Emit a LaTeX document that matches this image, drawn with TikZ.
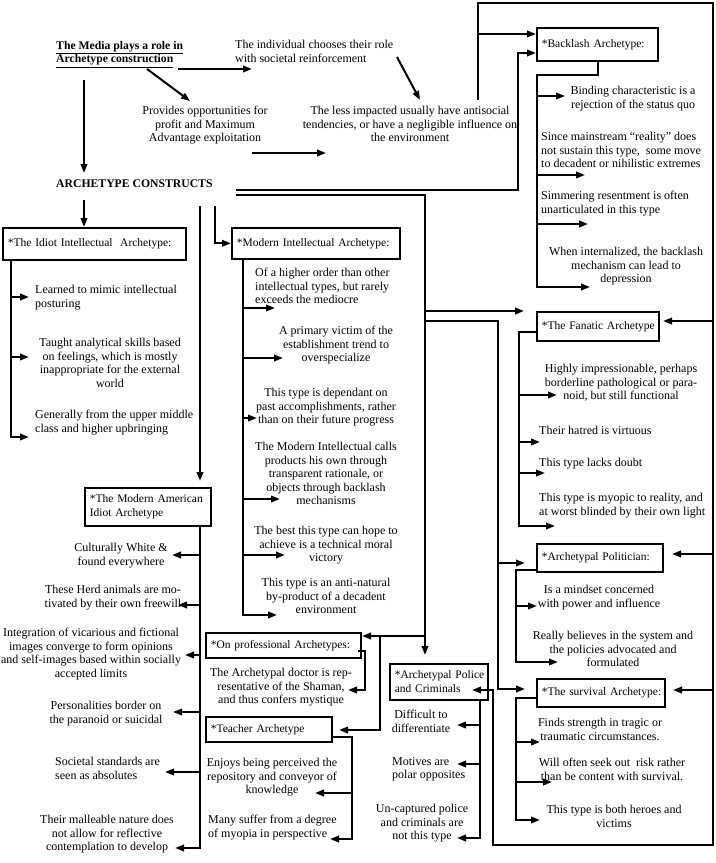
\documentclass[tikz,border=0pt]{standalone}
\usepackage{fontspec}
\setmainfont{Liberation Serif}
\usetikzlibrary{arrows.meta,positioning}

\begin{document}
\begin{tikzpicture}[
  x=1bp, y=-1bp,
  every node/.style={font=\fontsize{12bp}{13.5bp}\selectfont},
  head/.style={inner sep=0pt, align=left, anchor=north west, font=\fontsize{11.7bp}{13.5bp}\selectfont\bfseries},
  arch/.style={draw, line width=1.6bp, anchor=north west, inner xsep=5bp, inner ysep=0pt, align=left, font=\fontsize{11.5bp}{13.5bp}\selectfont},
  note/.style={inner sep=0pt, align=left, anchor=north west},
  cnote/.style={inner sep=0pt, align=center, anchor=north},
  wire/.style={line width=2bp},
  ptr/.style={wire, -{Triangle[length=9bp,width=6.5bp]}}
]
  \useasboundingbox[fill=white] (0,0) rectangle (716,863);

  % header
  \node[head] (media) at (56,41) {\underline{The Media plays a role in}\\\underline{Archetype construction}};
  \node[note] (indiv) at (235,40) {The individual chooses their role\\with societal reinforcement};
  \node[cnote] (prov) at (205,106) {Provides opportunities for\\profit and Maximum\\Advantage exploitation};
  \node[cnote] (less) at (410,106) {The less impacted usually have antisocial\\tendencies, or have a negligible influence on\\the environment};
  \node[head] (cons) at (56,180) {ARCHETYPE CONSTRUCTS};

  % archetype boxes
  \node[arch, text width=111bp, minimum height=33bp] (bl) at (536,27) {\mbox{*Backlash Archetype:}};
  \node[arch, text width=173bp, minimum height=32bp] (ii) at (2,227) {\mbox{*The Idiot Intellectual\ \ Archetype:}};
  \node[arch, text width=158bp, minimum height=31bp] (mi) at (231,227) {\mbox{*Modern Intellectual Archetype:}};
  \node[arch, text width=116bp, minimum height=38bp] (ma) at (84,487) {\mbox{*The Modern American}\\\mbox{Idiot Archetype}};
  \node[arch, text width=112bp, minimum height=29bp] (fa) at (536,311) {\mbox{*The Fanatic Archetype}};
  \node[arch, text width=116bp, minimum height=28bp] (po) at (536,543) {\mbox{*Archetypal Politician:}};
  \node[arch, text width=118bp, minimum height=28bp] (su) at (536,678) {\mbox{*The survival Archetype:}};
  \node[arch, text width=145bp, minimum height=25bp] (op) at (205,632) {\mbox{*On professional Archetypes:}};
  \node[arch, text width=116bp, minimum height=25bp] (te) at (205,716) {\mbox{*Teacher Archetype}};
  \node[arch, text width=88bp, minimum height=36bp] (pc) at (389,663) {\mbox{*Archetypal Police}\\\mbox{and Criminals}};

  % backlash
  \node[cnote] (bl1) at (633,86) {Binding characteristic is a\\rejection of the status quo};
  \node[note] (bl2) at (541,132) {Since mainstream “reality” does\\not sustain this type,\ \ some move\\to decadent or nihilistic extremes};
  \node[note] (bl3) at (541,191) {Simmering resentment is often\\unarticulated in this type};
  \node[cnote] (bl4) at (626,247) {When internalized, the backlash\\mechanism can lead to\\depression};

  % fanatic
  \node[cnote] (fa1) at (621,364) {Highly impressionable, perhaps\\borderline pathological or para-\\noid, but still functional};
  \node[note] (fa2) at (539,426) {Their hatred is virtuous};
  \node[note] (fa3) at (539,458) {This type lacks doubt};
  \node[note] (fa4) at (539,493) {This type is myopic to reality, and\\at worst blinded by their own light};

  % politician
  \node[cnote] (po1) at (599,585) {Is a mindset concerned\\with power and influence};
  \node[cnote] (po2) at (613,631) {Really believes in the system and\\the policies advocated and\\formulated};

  % survival
  \node[cnote] (su1) at (600,718) {Finds strength in tragic or\\traumatic circumstances.};
  \node[cnote] (su2) at (612,758) {Will often seek out\ \ risk rather\\than be content with survival.};
  \node[cnote] (su3) at (614,805) {This type is both heroes and\\victims};

  % idiot intellectual
  \node[note] (ii1) at (35,285) {Learned to mimic intellectual\\posturing};
  \node[cnote] (ii2) at (110,338) {Taught analytical skills based\\on feelings, which is mostly\\inappropriate for the external\\world};
  \node[note] (ii3) at (35,410) {Generally from the upper middle\\class and higher upbringing};

  % modern intellectual
  \node[note] (mi1) at (255,268) {Of a higher order than other\\intellectual types, but rarely\\exceeds the mediocre};
  \node[cnote] (mi2) at (336,326) {A primary victim of the\\establishment trend to\\overspecialize};
  \node[cnote] (mi3) at (326,388) {This type is dependant on\\past accomplishments, rather\\than on their future progress};
  \node[cnote] (mi4) at (326,442) {The Modern Intellectual calls\\products his own through\\transparent rationale, or\\objects through backlash\\mechanisms};
  \node[cnote] (mi5) at (326,526) {The best this type can hope to\\achieve is a technical moral\\victory};
  \node[cnote] (mi6) at (326,578) {This type is an anti-natural\\by-product of a decadent\\environment};

  % modern american idiot
  \node[cnote] (ma1) at (121,543) {Culturally White \&\\found everywhere};
  \node[cnote] (ma2) at (113,585) {These Herd animals are mo-\\tivated by their own freewill};
  \node[cnote] (ma3) at (91,628) {Integration of vicarious and fictional\\images converge to form opinions\\and self-images based within socially\\accepted limits};
  \node[cnote] (ma4) at (106,701) {Personalities border on\\the paranoid or suicidal};
  \node[note] (ma5) at (55,757) {Societal standards are\\seen as absolutes};
  \node[cnote] (ma6) at (107,815) {Their malleable nature does\\not allow for reflective\\contemplation to develop};

  % professional, teacher, police
  \node[cnote] (op1) at (281,668) {The Archetypal doctor is rep-\\resentative of the Shaman,\\and thus confers mystique};
  \node[cnote] (te1) at (272,758) {Enjoys being perceived the\\repository and conveyor of\\knowledge};
  \node[note] (te2) at (208,815) {Many suffer from a degree\\of myopia in perspective};
  \node[cnote] (pc1) at (421,710) {Difficult to\\differentiate};
  \node[note] (pc2) at (392,757) {Motives are\\polar opposites};
  \node[cnote] (pc3) at (422,804) {Un-captured police\\and criminals are\\not this type};

  % junctions and arrow ends
  \coordinate (m-r) at (178,69);   \coordinate (i-in) at (252,69);
  \coordinate (m-d) at (147,69);   \coordinate (p-in) at (190,101);
  \coordinate (i-d) at (397,57);   \coordinate (l-in) at (420,100);
  \coordinate (p-r) at (252,153);  \coordinate (p-out) at (326,153);
  \coordinate (m-dn) at (84,80);   \coordinate (c-in) at (84,173);
  \coordinate (c-r1) at (236,190); \coordinate (c-r2) at (236,195);
  \coordinate (c-d1) at (84,200);  \coordinate (c-d2) at (200,206);
  \coordinate (c-d3) at (215,206); \coordinate (bl-k2) at (518,53);
  \coordinate (less-up) at (478,100); \coordinate (bl-in1) at (536,34);
  \coordinate (loop-tr) at (713,3);   \coordinate (loop-bl) at (493,845);
  \coordinate (pc-in) at (472,690);
  \coordinate (fa-r) at (663,321); \coordinate (po-r) at (672,554); \coordinate (su-r) at (673,690);
  \coordinate (tm) at (425,195);   \coordinate (pc-top) at (425,655);
  \coordinate (fa-in) at (524,311);
  \coordinate (k-po) at (498,321); \coordinate (po-in) at (525,563); \coordinate (su-in) at (525,689);
  \coordinate (op-in) at (362,636); \coordinate (k-te) at (380,636); \coordinate (te-in) at (339,730);

  \coordinate (bl-t) at (598,60);  \coordinate (bl-k) at (537,75);
  \coordinate (bl1-a) at (565,96); \coordinate (bl2-a) at (585,175);
  \coordinate (bl3-a) at (588,224); \coordinate (bl4-a) at (590,287);
  \coordinate (fa-t) at (536,332); \coordinate (fa-k) at (519,332);
  \coordinate (fa1-a) at (557,395); \coordinate (fa2-a) at (540,442);
  \coordinate (fa3-a) at (545,473); \coordinate (fa4-a) at (555,526);
  \coordinate (po-t) at (536,570); \coordinate (po-k) at (516,570);
  \coordinate (po1-a) at (537,606); \coordinate (po2-a) at (558,662);
  \coordinate (su-t) at (536,698); \coordinate (su-k) at (516,698);
  \coordinate (su1-a) at (540,742); \coordinate (su2-a) at (552,782); \coordinate (su3-a) at (540,820);
  \coordinate (ii-t) at (11,259);
  \coordinate (ii1-a) at (29,297); \coordinate (ii2-a) at (29,357); \coordinate (ii3-a) at (29,437);
  \coordinate (mi-t) at (243,258);
  \coordinate (mi1-a) at (275,308); \coordinate (mi2-a) at (283,358); \coordinate (mi3-a) at (257,418);
  \coordinate (mi4-a) at (280,499); \coordinate (mi5-a) at (285,555); \coordinate (mi6-a) at (277,615);
  \coordinate (ma-t) at (200,525);
  \coordinate (ma1-a) at (172,555); \coordinate (ma2-a) at (178,605); \coordinate (ma3-a) at (185,655);
  \coordinate (ma4-a) at (173,712); \coordinate (ma5-a) at (165,772); \coordinate (ma6-a) at (175,848);
  \coordinate (op-t) at (358,651); \coordinate (op1-a) at (348,690);
  \coordinate (te-t) at (331,737); \coordinate (te-k) at (352,737);
  \coordinate (te1-a) at (315,793); \coordinate (te2-a) at (330,839);
  \coordinate (pc-t) at (480,699);
  \coordinate (pc1-a) at (457,725); \coordinate (pc2-a) at (457,764); \coordinate (pc3-a) at (457,838);

  % header arrows
  \draw[ptr] (m-r) -- (i-in);
  \draw[ptr] (m-d) -- (p-in);
  \draw[ptr] (i-d) -- (l-in);
  \draw[ptr] (p-r) -- (p-out);
  \draw[ptr] (m-dn) -- (c-in);

  % from the constructs
  \draw[ptr] (c-r1) -| (bl-k2) -- (bl-k2 -| bl.west);
  \draw[ptr] (c-r2) -| (pc-top);
  \draw[ptr] (c-d1) -- (c-d1 |- ii.north);
  \draw[ptr] (c-d2) -- (c-d2 |- ma.north) [shorten >=6bp];
  \draw[ptr] (c-d3) |- (c-d3 |- mi.west) -- (mi.west);
  \draw[ptr] (tm |- fa-in) -- (fa-in);
  \draw[ptr] (tm |- k-po) -| (k-po |- su-in) -- (su-in);
  \draw[ptr] (k-po |- po-in) -- (po-in);
  \draw[ptr] (tm |- op-in) -- (op-in);
  \draw[ptr] (k-te) |- (te-in);

  % outer loop
  \draw[ptr] (less-up) |- (loop-tr) |- (loop-bl) |- (pc-in);
  \draw[ptr] (less-up |- bl-in1) -- (bl-in1);
  \foreach \n in {fa,po,su} \draw[ptr] (loop-tr |- \n-r) -- (\n-r);

  % trunks
  \draw[ptr] (bl-t) |- (bl-k) |- (bl4-a);
  \foreach \n in {bl1,bl2,bl3} \draw[ptr] (bl-k |- \n-a) -- (\n-a);
  \draw[ptr] (fa-t) -- (fa-k) |- (fa4-a);
  \foreach \n in {fa1,fa2,fa3} \draw[ptr] (fa-k |- \n-a) -- (\n-a);
  \draw[ptr] (po-t) -- (po-k) |- (po2-a);
  \draw[ptr] (po-k |- po1-a) -- (po1-a);
  \draw[ptr] (su-t) -- (su-k) |- (su3-a);
  \foreach \n in {su1,su2} \draw[ptr] (su-k |- \n-a) -- (\n-a);
  \draw[ptr] (ii-t) |- (ii3-a);
  \foreach \n in {ii1,ii2} \draw[ptr] (ii-t |- \n-a) -- (\n-a);
  \draw[ptr] (mi-t) |- (mi6-a);
  \foreach \n in {mi1,mi2,mi3,mi4,mi5} \draw[ptr] (mi-t |- \n-a) -- (\n-a);
  \draw[ptr] (ma-t) |- (ma6-a);
  \foreach \n in {ma1,ma2,ma3,ma4,ma5} \draw[ptr] (ma-t |- \n-a) -- (\n-a);
  \draw[ptr] (op-t) -- ++(7,0) |- (op1-a);
  \draw[ptr] (te-t) -- (te-k) |- (te2-a);
  \draw[ptr] (te-k |- te1-a) -- (te1-a);
  \draw[ptr] (pc-t) |- (pc3-a);
  \foreach \n in {pc1,pc2} \draw[ptr] (pc-t |- \n-a) -- (\n-a);
\end{tikzpicture}
\end{document}
